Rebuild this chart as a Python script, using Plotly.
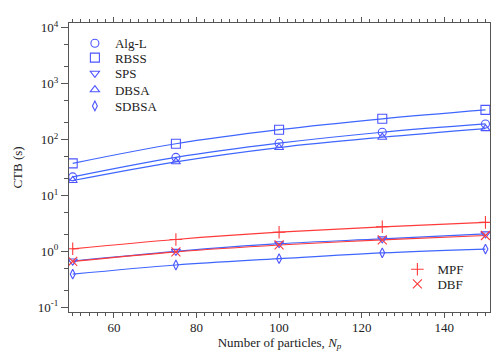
import plotly.graph_objects as go

# particle counts
n_particles = [50, 75, 100, 125, 150]

# CTB (s) per algorithm
alg_l = [21.5, 48, 86, 135, 190]
rbss = [37.5, 84, 150, 235, 339]
sps = [0.67, 1.0, 1.37, 1.67, 2.05]
dbsa = [18.5, 40, 72, 110, 157]
sdbsa = [0.39, 0.57, 0.74, 0.94, 1.1]
mpf = [1.11, 1.63, 2.2, 2.75, 3.3]
dbf = [0.66, 0.98, 1.3, 1.6, 1.92]

y_tickvals = [0.1, 1, 10, 100, 1000, 10000]
y_ticktext = ["10<sup>-1</sup>", "10<sup>0</sup>", "10<sup>1</sup>",
              "10<sup>2</sup>", "10<sup>3</sup>", "10<sup>4</sup>"]

BLUE_LINE = "#3f66ff"
BLUE_MK = "#4c55ff"
RED = "#ff3a3a"
FONT = "Liberation Serif"

fig = go.Figure()

# name, data, symbol, line colour, marker colour, size, legend id
series = [
    ("Alg-L", alg_l, "circle-open", BLUE_LINE, BLUE_MK, 8, "legend"),
    ("RBSS", rbss, "square-open", BLUE_LINE, BLUE_MK, 9, "legend2"),
    ("SPS", sps, "triangle-down-open", BLUE_LINE, BLUE_MK, 8, "legend3"),
    ("DBSA", dbsa, "triangle-up-open", BLUE_LINE, BLUE_MK, 8, "legend4"),
    ("SDBSA", sdbsa, "diamond-tall-open", BLUE_LINE, BLUE_MK, 7, "legend5"),
    ("MPF", mpf, "cross-thin-open", RED, RED, 9, "legend6"),
    ("DBF", dbf, "x-thin-open", RED, RED, 9, "legend7"),
]

# lines first (no legend), then markers on top
for name, vals, sym, lc, mc, sz, lg in series:
    fig.add_trace(go.Scatter(
        x=n_particles, y=vals, mode="lines", line=dict(color=lc, width=1.2, shape="spline"),
        showlegend=False, hoverinfo="skip"))

for name, vals, sym, lc, mc, sz, lg in series:
    fig.add_trace(go.Scatter(
        x=n_particles, y=vals, mode="markers", name=name, legend=lg,
        marker=dict(symbol=sym, size=sz, color=mc, line=dict(color=mc, width=1.1))))

axis_common = dict(
    showline=True, linecolor="#555", linewidth=1, mirror="allticks",
    ticks="outside", tickcolor="#555", showgrid=False, zeroline=False,
    tickfont=dict(family=FONT, size=13, color="#222"),
)

fig.update_xaxes(
    range=[49.1, 151.1], dtick=20, tick0=0, ticklen=5, ticklabelstandoff=-2,
    minor=dict(ticks="outside", dtick=2, ticklen=3, tickcolor="#555", showgrid=False),
    title=dict(text="Number of particles, <i>N</i><sub><i>p</i></sub>",
               font=dict(family=FONT, size=13, color="#222"), standoff=0),
    **axis_common)

fig.update_yaxes(
    type="log", range=[-1.085, 4.085], tickvals=y_tickvals, ticktext=y_ticktext, ticklen=7,
    minor=dict(ticks="outside", ticklen=4, tickcolor="#555", showgrid=False),
    title=dict(text="CTB (s)", font=dict(family=FONT, size=13, color="#222"), standoff=12),
    **axis_common)

legend_font = dict(family=FONT, size=13, color="#222")
# one legend per entry so the rows can sit as tightly as in the reference
legend_pos = {
    "legend": (0.014, 0.930), "legend2": (0.014, 0.880), "legend3": (0.014, 0.826),
    "legend4": (0.014, 0.769), "legend5": (0.014, 0.713),
    "legend6": (0.78, 0.148), "legend7": (0.78, 0.097),
}
for lg, (lx, ly) in legend_pos.items():
    fig.update_layout({lg: dict(x=lx, y=ly, xanchor="left", yanchor="middle",
                                bgcolor="rgba(0,0,0,0)", font=legend_font)})

fig.update_layout(
    width=499, height=352,
    margin=dict(l=58, r=11, t=9, b=48),
    paper_bgcolor="white", plot_bgcolor="white",
    font=dict(family=FONT, size=13, color="#222"),
)

fig.write_html("out.html")
